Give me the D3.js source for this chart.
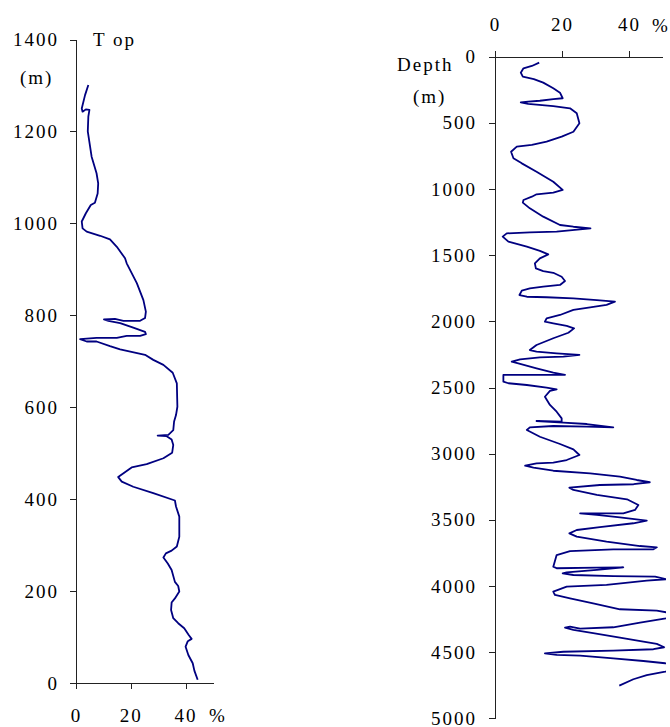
<!DOCTYPE html>
<html>
<head>
<meta charset="utf-8">
<script src="https://cdn.jsdelivr.net/npm/d3@7"></script>
<style>
  body { margin: 0; background: #fff; }
  svg text { font-family: "Liberation Serif", "Times New Roman", serif; font-size: 19px; fill: #000; letter-spacing: 2px; }
  .axis path, .axis line { stroke: #222; shape-rendering: crispEdges; }
</style>
</head>
<body>
<svg id="chart" width="670" height="727"></svg>
<script>
// left panel: depth above the reference (m) vs percentage
const leftDepth = [1301, 1279, 1250, 1243, 1248, 1247, 1232, 1200, 1145, 1109, 1087, 1065, 1045, 1040, 1022, 1004, 989, 982, 973, 965, 949, 924, 913, 870, 833, 808, 794, 788, 788, 792, 791, 788, 783, 773, 764, 759, 755, 755, 751, 751, 748, 743, 743, 733, 726, 714, 703, 692, 675, 652, 601, 583, 569, 550, 540, 538, 537, 530, 518, 501, 489, 476, 469, 448, 438, 427, 413, 397, 384, 362, 318, 297, 288, 282, 273, 260, 246, 220, 211, 199, 184, 175, 159, 141, 130, 119, 104, 96, 91, 79, 61, 43, 27, 7];
const leftPct = [4.5, 3.3, 2.1, 2.4, 3.6, 4.9, 4.5, 4.3, 5.7, 7.5, 8.1, 7.9, 6.9, 5.4, 3.6, 2.1, 2.4, 3.9, 8.8, 12.4, 14.9, 17.9, 18.5, 22.2, 24.6, 25.5, 25.2, 23.4, 17.3, 14.2, 10.2, 11.8, 16.1, 20.9, 25.2, 25.5, 23.4, 18.5, 14.9, 7.5, 1.5, 3.9, 7.5, 12.4, 16.1, 25.2, 28.2, 31.9, 35.3, 36.8, 37.0, 36.5, 35.8, 35.5, 33.7, 29.8, 33.1, 34.9, 35.5, 35.1, 31.9, 25.8, 20.3, 15.4, 16.7, 20.9, 28.2, 36.1, 36.5, 37.7, 37.7, 36.8, 34.9, 32.8, 31.9, 33.5, 34.9, 36.1, 37.3, 37.7, 36.1, 34.9, 34.7, 35.5, 37.3, 39.5, 41.2, 42.2, 40.8, 40.0, 41.0, 42.6, 43.2, 44.4];

// right panel: depth (m) vs percentage
const rightDepth = [45, 70, 88, 121, 151, 169, 196, 239, 272, 314, 320, 333, 340, 345, 357, 373, 390, 428, 503, 567, 604, 642, 667, 680, 718, 768, 806, 869, 945, 1007, 1028, 1040, 1058, 1083, 1103, 1146, 1209, 1272, 1285, 1297, 1305, 1322, 1327, 1335, 1360, 1398, 1436, 1468, 1494, 1524, 1562, 1600, 1620, 1633, 1663, 1695, 1725, 1738, 1751, 1768, 1801, 1814, 1818, 1826, 1839, 1851, 1876, 1894, 1914, 1952, 1977, 2003, 2015, 2035, 2053, 2086, 2128, 2179, 2217, 2229, 2242, 2254, 2267, 2272, 2287, 2305, 2322, 2355, 2388, 2405, 2405, 2405, 2456, 2468, 2481, 2501, 2514, 2526, 2570, 2632, 2683, 2733, 2758, 2753, 2766, 2776, 2801, 2796, 2791, 2801, 2821, 2872, 2927, 2967, 3010, 3048, 3068, 3073, 3091, 3106, 3129, 3149, 3174, 3199, 3216, 3231, 3237, 3257, 3274, 3312, 3345, 3388, 3425, 3451, 3451, 3463, 3481, 3506, 3526, 3556, 3577, 3602, 3627, 3665, 3698, 3708, 3723, 3723, 3736, 3766, 3854, 3866, 3862, 3859, 3879, 3897, 3904, 3917, 3925, 3930, 3949, 3960, 3992, 4005, 4043, 4068, 4093, 4131, 4176, 4187, 4215, 4244, 4277, 4312, 4322, 4307, 4315, 4332, 4357, 4391, 4421, 4438, 4463, 4478, 4489, 4497, 4509, 4521, 4527, 4547, 4567, 4584, 4615, 4648, 4673, 4705, 4753];
const rightPct = [13.2, 11.0, 8.5, 7.7, 8.3, 11.6, 14.4, 17.4, 19.4, 20.2, 17.4, 13.4, 9.9, 7.7, 9.9, 17.4, 22.4, 24.4, 25.2, 23.4, 19.9, 15.4, 11.0, 6.5, 4.8, 5.5, 8.0, 12.4, 17.4, 20.2, 17.4, 12.4, 11.0, 8.5, 8.3, 10.4, 14.4, 19.4, 23.4, 28.5, 25.4, 18.4, 10.4, 3.5, 2.3, 4.0, 9.5, 13.4, 15.9, 13.4, 11.9, 12.2, 14.4, 17.4, 19.9, 20.9, 19.4, 14.4, 10.4, 8.0, 7.3, 9.5, 15.4, 23.4, 30.4, 35.8, 33.3, 28.4, 23.4, 19.4, 15.4, 14.9, 17.4, 21.4, 23.6, 21.9, 17.4, 12.4, 10.4, 12.4, 18.4, 25.2, 20.4, 13.4, 7.5, 5.0, 7.5, 12.4, 17.4, 20.9, 13.4, 2.5, 2.5, 4.0, 9.5, 15.4, 18.4, 16.4, 14.9, 16.4, 18.4, 19.9, 19.9, 12.4, 20.4, 27.4, 35.3, 27.4, 17.4, 10.4, 9.5, 13.4, 19.4, 23.4, 25.2, 21.4, 17.4, 12.4, 9.0, 11.5, 17.4, 28.4, 37.3, 42.3, 46.2, 41.4, 31.3, 22.2, 23.4, 30.4, 39.4, 42.8, 41.8, 38.3, 25.4, 30.4, 37.3, 45.3, 41.3, 31.3, 24.4, 22.2, 24.4, 33.3, 43.3, 48.3, 47.3, 35.3, 22.4, 18.4, 17.4, 18.4, 30.4, 38.3, 30.4, 21.4, 20.2, 23.4, 35.3, 47.8, 51.0, 45.3, 33.3, 21.4, 17.4, 17.9, 22.4, 29.3, 37.3, 48.3, 55.0, 51.0, 43.3, 35.3, 25.4, 22.4, 20.9, 23.4, 29.3, 37.3, 44.3, 48.3, 50.5, 47.3, 35.3, 20.4, 14.9, 18.4, 25.4, 35.3, 44.3, 50.8, 56.0, 50.8, 45.3, 41.3, 37.1];

const pctTicks = [0, 20, 40];
const leftDepthTicks = [0, 200, 400, 600, 800, 1000, 1200, 1400];
const rightDepthTicks = [0, 500, 1000, 1500, 2000, 2500, 3000, 3500, 4000, 4500, 5000];

const svg = d3.select('#chart');

// scales
const xL = d3.scaleLinear().domain([0, 50]).range([76, 213]);
const yL = d3.scaleLinear().domain([0, 1400]).range([683, 39.5]);
const xR = d3.scaleLinear().domain([0, 50]).range([495, 662.5]);
const yR = d3.scaleLinear().domain([0, 5000]).range([56.7, 718.3]);

const fmt = d3.format('d');

// left axes
svg.append('g')
    .attr('class', 'axis')
    .attr('transform', 'translate(76,0)')
    .call(d3.axisLeft(yL).tickValues(leftDepthTicks).tickFormat(fmt).tickSize(6).tickPadding(11).tickSizeOuter(0));
svg.append('g')
    .attr('class', 'axis')
    .attr('transform', 'translate(0,683)')
    .call(d3.axisBottom(xL).tickValues(pctTicks).tickFormat(fmt).tickSize(6).tickPadding(20).tickSizeOuter(0));

// right axes
svg.append('g')
    .attr('class', 'axis')
    .attr('transform', 'translate(495,0)')
    .call(d3.axisLeft(yR).tickValues(rightDepthTicks).tickFormat(fmt).tickSize(6).tickPadding(12).tickSizeOuter(0));
svg.append('g')
    .attr('class', 'axis')
    .attr('transform', 'translate(0,56.7)')
    .call(d3.axisTop(xR).tickValues(pctTicks).tickFormat(fmt).tickSize(6).tickPadding(20).tickSizeOuter(0));

svg.selectAll('.axis .domain').attr('fill', 'none');
svg.selectAll('.axis text').attr('font-size', null).attr('font-family', null);

// labels
svg.append('text').attr('x', 93).attr('y', 46).text('T op');
svg.append('text').attr('x', 20).attr('y', 84).text('(m)');
svg.append('text').attr('x', 209).attr('y', 722).style('letter-spacing', '0px').text('%');
svg.append('text').attr('x', 397).attr('y', 71).text('Depth');
svg.append('text').attr('x', 413).attr('y', 103).text('(m)');
svg.append('text').attr('x', 652).attr('y', 32).style('letter-spacing', '0px').text('%');

// clip for the right trace
svg.append('clipPath').attr('id', 'clipR')
  .append('rect').attr('x', 480).attr('y', 40).attr('width', 186).attr('height', 687);

const lineL = d3.line().x(i => xL(leftPct[i])).y(i => yL(leftDepth[i]));
const lineR = d3.line().x(i => xR(rightPct[i])).y(i => yR(rightDepth[i]));

svg.append('path')
    .attr('d', lineL(d3.range(leftDepth.length)))
    .attr('fill', 'none')
    .attr('stroke', '#000080')
    .attr('stroke-width', 1.8)
    .attr('stroke-linejoin', 'round');

svg.append('path')
    .attr('d', lineR(d3.range(rightDepth.length)))
    .attr('clip-path', 'url(#clipR)')
    .attr('fill', 'none')
    .attr('stroke', '#000080')
    .attr('stroke-width', 1.8)
    .attr('stroke-linejoin', 'round');
</script>
</body>
</html>
